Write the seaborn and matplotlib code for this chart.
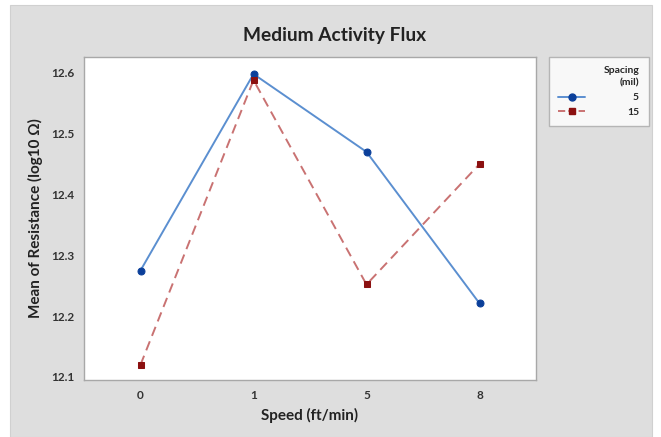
import matplotlib
matplotlib.use("Agg")
import matplotlib.pyplot as plt
import matplotlib.patches as mpatches
import pandas as pd
import seaborn as sns

# data
speeds = ["0", "1", "5", "8"]
spacing_5 = [12.275, 12.598, 12.470, 12.221]
spacing_15 = [12.120, 12.588, 12.252, 12.450]

LINE_COL = {"5": "#5b8fd0", "15": "#c97272"}
MARK_COL = {"5": "#0b3f9a", "15": "#8b1010"}
BG = "#dedede"

df = pd.DataFrame({
    "Speed": speeds * 2,
    "Mean": spacing_5 + spacing_15,
    "Spacing": ["5"] * 4 + ["15"] * 4,
})

sns.set_style("white")
plt.rcParams["font.family"] = ["Lato", "DejaVu Sans"]

fig = plt.figure(figsize=(6.61, 4.37), dpi=100)
fig.patches.append(mpatches.Rectangle((10 / 661, 0), 642 / 661, 1 - 5 / 437,
                                      transform=fig.transFigure, facecolor=BG,
                                      edgecolor="#d0d0d0", lw=0.8, zorder=-10))
ax = fig.add_axes([84 / 661, 57 / 437, 452 / 661, 323 / 437])

sns.lineplot(data=df, x="Speed", y="Mean", hue="Spacing", style="Spacing",
             palette=LINE_COL, markers={"5": "o", "15": "s"},
             dashes={"5": "", "15": (5, 3)}, sort=False, lw=1.4,
             markersize=5, ax=ax, legend=False)

for line, key in zip(ax.lines, ["5", "15"]):
    line.set_markerfacecolor(MARK_COL[key])
    line.set_markeredgecolor(MARK_COL[key])

ax.set_xlim(-0.5, 3.5)
ax.set_ylim(12.095, 12.626)
ax.set_yticks([12.1, 12.2, 12.3, 12.4, 12.5, 12.6])
ax.set_yticklabels(["12.1", "12.2", "12.3", "12.4", "12.5", "12.6"])
ax.tick_params(axis="both", length=3, width=0.8, color="#a0a0a0",
               labelsize=8.5, labelcolor="#333333", pad=4)
for t in ax.get_xticklabels() + ax.get_yticklabels():
    t.set_fontweight("bold")
for s in ax.spines.values():
    s.set_color("#a8a8a8")
    s.set_linewidth(1.0)

ax.set_xlabel("Speed (ft/min)", fontsize=11, fontweight="bold", color="#222222", labelpad=5)
ax.set_ylabel("Mean of Resistance (log10 \u03a9)", fontsize=11, fontweight="bold",
              color="#222222", labelpad=6)
fig.text(335 / 661, 1 - 35 / 437, "Medium Activity Flux", ha="center", va="center",
         fontsize=13.8, fontweight="bold", color="#222222")

handles = [plt.Line2D([], [], color=LINE_COL[k], ls="-" if k == "5" else "--",
                      marker="o" if k == "5" else "s", markersize=5,
                      markerfacecolor=MARK_COL[k], markeredgecolor=MARK_COL[k], lw=1.4)
           for k in ["5", "15"]]
leg = fig.legend(handles, ["\u20075", "15"], loc="upper left",
                 bbox_to_anchor=(549 / 661, 1 - 57 / 437), borderaxespad=0,
                 title="Spacing\n(mil)",
                 alignment="right", fancybox=False, frameon=True, edgecolor="#a8a8a8",
                 facecolor="white", fontsize=7.5, title_fontsize=7.5, handlelength=2.6,
                 handletextpad=4.0, borderpad=0.9, labelspacing=0.5)
leg.get_frame().set_linewidth(1.0)
leg.get_title().set_fontweight("bold")
leg.get_title().set_multialignment("right")
leg.get_title().set_linespacing(1.5)
for t in leg.get_texts():
    t.set_fontweight("bold")

fig.savefig("out.png", dpi=100, facecolor="white")
